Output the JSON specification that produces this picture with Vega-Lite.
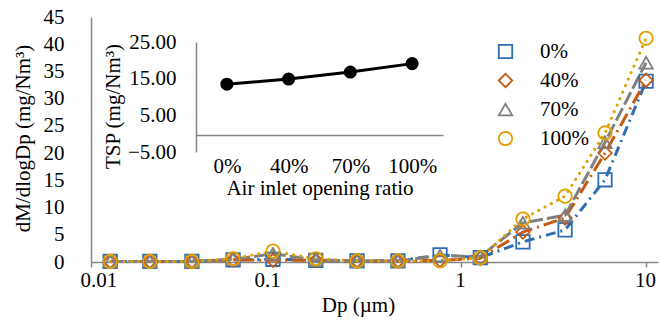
{
  "$schema": "https://vega.github.io/schema/vega-lite/v6.json",
  "width": 567,
  "height": 245,
  "autosize": "none",
  "padding": {"left": 91, "top": 17, "right": 2, "bottom": 65},
  "background": "white",
  "config": {
    "font": "Liberation Serif",
    "view": {"stroke": null},
    "axis": {"labelFont": "Liberation Serif", "titleFont": "Liberation Serif", "labelFontSize": 21, "titleFontSize": 21, "labelColor": "black", "titleColor": "black", "titleFontWeight": "normal", "domainColor": "#868686", "domainWidth": 1.5, "tickColor": "#868686", "grid": false},
    "legend": {"labelFont": "Liberation Serif", "labelFontSize": 21, "labelColor": "black"}
  },
  "datasets": {
    "psd": [
      {"dp": 0.0127, "ratio": "0%", "v": 0.1}, {"dp": 0.0127, "ratio": "40%", "v": 0.1}, {"dp": 0.0127, "ratio": "70%", "v": 0.1}, {"dp": 0.0127, "ratio": "100%", "v": 0.1},
      {"dp": 0.0208, "ratio": "0%", "v": 0.1}, {"dp": 0.0208, "ratio": "40%", "v": 0.1}, {"dp": 0.0208, "ratio": "70%", "v": 0.1}, {"dp": 0.0208, "ratio": "100%", "v": 0.1},
      {"dp": 0.0351, "ratio": "0%", "v": 0.1}, {"dp": 0.0351, "ratio": "40%", "v": 0.1}, {"dp": 0.0351, "ratio": "70%", "v": 0.1}, {"dp": 0.0351, "ratio": "100%", "v": 0.1},
      {"dp": 0.0586, "ratio": "0%", "v": 0.4}, {"dp": 0.0586, "ratio": "40%", "v": 0.4}, {"dp": 0.0586, "ratio": "70%", "v": 0.5}, {"dp": 0.0586, "ratio": "100%", "v": 0.6},
      {"dp": 0.0963, "ratio": "0%", "v": 0.5}, {"dp": 0.0963, "ratio": "40%", "v": 0.3}, {"dp": 0.0963, "ratio": "70%", "v": 1.5}, {"dp": 0.0963, "ratio": "100%", "v": 2.0},
      {"dp": 0.164, "ratio": "0%", "v": 0.3}, {"dp": 0.164, "ratio": "40%", "v": 0.3}, {"dp": 0.164, "ratio": "70%", "v": 0.4}, {"dp": 0.164, "ratio": "100%", "v": 0.6},
      {"dp": 0.274, "ratio": "0%", "v": 0.2}, {"dp": 0.274, "ratio": "40%", "v": 0.2}, {"dp": 0.274, "ratio": "70%", "v": 0.2}, {"dp": 0.274, "ratio": "100%", "v": 0.2},
      {"dp": 0.456, "ratio": "0%", "v": 0.2}, {"dp": 0.456, "ratio": "40%", "v": 0.2}, {"dp": 0.456, "ratio": "70%", "v": 0.2}, {"dp": 0.456, "ratio": "100%", "v": 0.2},
      {"dp": 0.77, "ratio": "0%", "v": 1.3}, {"dp": 0.77, "ratio": "40%", "v": 0.3}, {"dp": 0.77, "ratio": "70%", "v": 1.2}, {"dp": 0.77, "ratio": "100%", "v": 0.2},
      {"dp": 1.27, "ratio": "0%", "v": 0.8}, {"dp": 1.27, "ratio": "40%", "v": 0.7}, {"dp": 1.27, "ratio": "70%", "v": 1.0}, {"dp": 1.27, "ratio": "100%", "v": 0.8},
      {"dp": 2.16, "ratio": "0%", "v": 3.7}, {"dp": 2.16, "ratio": "40%", "v": 5.5}, {"dp": 2.16, "ratio": "70%", "v": 7.2}, {"dp": 2.16, "ratio": "100%", "v": 7.9},
      {"dp": 3.65, "ratio": "0%", "v": 5.9}, {"dp": 3.65, "ratio": "40%", "v": 8.1}, {"dp": 3.65, "ratio": "70%", "v": 8.6}, {"dp": 3.65, "ratio": "100%", "v": 12.1},
      {"dp": 6.0, "ratio": "0%", "v": 15.1}, {"dp": 6.0, "ratio": "40%", "v": 20.0}, {"dp": 6.0, "ratio": "70%", "v": 22.0}, {"dp": 6.0, "ratio": "100%", "v": 23.7},
      {"dp": 10.0, "ratio": "0%", "v": 33.2}, {"dp": 10.0, "ratio": "40%", "v": 33.4}, {"dp": 10.0, "ratio": "70%", "v": 36.6}, {"dp": 10.0, "ratio": "100%", "v": 41.1}
    ],
    "tsp": [
      {"ratio": "0%", "tsp": 13.5},
      {"ratio": "40%", "tsp": 14.9},
      {"ratio": "70%", "tsp": 16.8},
      {"ratio": "100%", "tsp": 19.1}
    ]
  },
  "layer": [
    {
      "data": {"name": "psd"},
      "encoding": {
        "x": {"field": "dp", "type": "quantitative",
          "scale": {"type": "log", "domain": [0.01, 11.6], "nice": false},
          "axis": {"orient": "bottom", "title": "Dp (µm)", "values": [0.01, 0.1, 1, 10], "labelExpr": "format(datum.value, '~g')", "tickSize": 5, "tickWidth": 1.5, "labelPadding": 2, "labelOffset": {"expr": "datum.value < 0.05 ? -11 : (datum.value < 0.5 ? -9 : -1)"}, "titleX": 267, "titleY": 43, "titleBaseline": "middle", "titleAnchor": null}},
        "y": {"field": "v", "type": "quantitative",
          "scale": {"domain": [0, 45], "nice": false},
          "axis": {"orient": "left", "title": "dM/dlogDp (mg/Nm³)", "values": [0, 5, 10, 15, 20, 25, 30, 35, 40, 45], "ticks": false, "labelPadding": 27, "titleX": -68, "titleY": 121, "titleAngle": 270, "titleBaseline": "middle", "titleAlign": "center", "titleAnchor": null}},
        "color": {"field": "ratio", "type": "nominal",
          "scale": {"domain": ["0%", "40%", "70%", "100%"], "range": ["#2E6DB4", "#C55A11", "#808080", "#E0A000"]},
          "legend": {"title": null, "orient": "none", "legendX": 404, "legendY": 24, "rowPadding": 7, "labelOffset": 24, "symbolSize": 180, "symbolStrokeWidth": 1.8, "symbolFillColor": "transparent", "padding": 0}}
      },
      "layer": [
        {
          "transform": [{"filter": "datum.ratio === '0%'"}],
          "mark": {"type": "line", "strokeWidth": 3, "strokeDash": [10, 5, 2, 5]}
        },
        {
          "transform": [{"filter": "datum.ratio === '40%'"}],
          "mark": {"type": "line", "strokeWidth": 3, "strokeDash": [14, 5, 2, 5]}
        },
        {
          "transform": [{"filter": "datum.ratio === '70%'"}],
          "mark": {"type": "line", "strokeWidth": 3, "strokeDash": [14, 4]}
        },
        {
          "transform": [{"filter": "datum.ratio === '100%'"}],
          "mark": {"type": "line", "strokeWidth": 3, "strokeDash": [0.1, 7], "strokeCap": "round"}
        },
        {
          "mark": {"type": "point", "filled": false, "size": 180, "strokeWidth": 1.8, "opacity": 1},
          "encoding": {
            "shape": {"field": "ratio", "type": "nominal",
              "scale": {"domain": ["0%", "40%", "70%", "100%"], "range": ["square", "diamond", "triangle-up", "circle"]},
              "legend": {"title": null}}
          }
        }
      ]
    },
    {
      "data": {"name": "tsp"},
      "encoding": {
        "x": {"field": "ratio", "type": "ordinal", "sort": ["0%", "40%", "70%", "100%"],
          "scale": {"type": "point", "range": [105, 352], "padding": 0.5},
          "axis": {"orient": "bottom", "offset": -127, "title": "Air inlet opening ratio", "ticks": false, "labelPadding": 20, "labelAngle": 0, "titleY": 53, "titleBaseline": "middle"}},
        "y": {"field": "tsp", "type": "quantitative",
          "scale": {"domain": [-5, 25], "range": [135, 25], "nice": false, "zero": false},
          "axis": {"orient": "left", "offset": -105, "title": "TSP (mg/Nm³)", "values": [-5, 5, 15, 25], "format": ".2f", "ticks": false, "labelPadding": 20, "titleX": -83, "titleY": 89, "titleAngle": 270, "titleBaseline": "middle", "titleAlign": "center", "titleAnchor": null}}
      },
      "layer": [
        {"mark": {"type": "line", "color": "black", "strokeWidth": 3}, "encoding": {}},
        {"mark": {"type": "point", "filled": true, "color": "black", "size": 170, "opacity": 1}, "encoding": {}}
      ]
    }
  ],
  "resolve": {"scale": {"x": "independent", "y": "independent"}, "axis": {"x": "independent", "y": "independent"}}
}
